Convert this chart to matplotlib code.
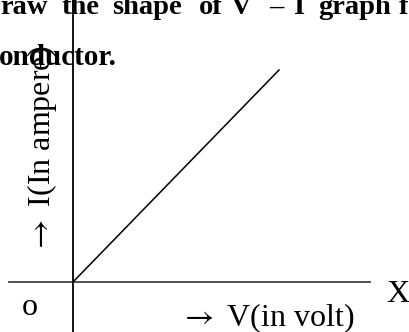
import matplotlib
matplotlib.use("Agg")
import matplotlib.pyplot as plt

# V-I graph of an ohmic conductor: a straight line through the origin
voltage = [0, 10]
current = [0, 10]

# heading text (cut off at both edges in the source)
heading_words = ["raw", "the", "shape", "of", "V", "–", "I", "graph", "f"]
heading_x = [0, 62, 112, 199, 231, 269, 294, 318, 399]
heading_line2 = "onductor."

x_label = r"$\rightarrow$ V(in volt)"
y_label = r"$\rightarrow$ I(In ampere)"
origin_label = "o"
x_axis_name = "X"

W, H = 409, 332
SERIF = ["Liberation Serif", "DejaVu Serif"]
plt.rcParams["mathtext.fontset"] = "stix"


def fx(px):
    return px / W


def fy(py):
    return 1 - py / H


def main() -> None:
    fig = plt.figure(figsize=(W / 100, H / 100), dpi=100)
    ax = fig.add_axes([0, 0, 1, 1])
    # origin sits at pixel (73, 282); 10 units -> (279, 70)
    sx = (279 - 73) / 10
    sy = (282 - 70) / 10
    ax.set_xlim(-73 / sx, (W - 73) / sx)
    ax.set_ylim(-(H - 282) / sy, 282 / sy)
    ax.axis("off")

    ax.axvline(0, color="black", linewidth=1.3)
    ax.axhline(0, xmin=9 / W, xmax=370 / W, color="#444444", linewidth=1.3)
    ax.plot(voltage, current, color="black", linewidth=1.1)

    for word, x in zip(heading_words, heading_x):
        fig.text(fx(x), fy(14), word, fontsize=20.5, fontweight="bold",
                 family=SERIF, ha="left", va="baseline")
    fig.text(fx(117), fy(65), heading_line2, fontsize=21, fontweight="bold",
             family=SERIF, ha="right", va="baseline")

    body = dict(fontsize=23, family=SERIF, va="baseline")
    fig.text(fx(180), fy(326), x_label, ha="left", **body)
    fig.text(fx(50), fy(253), y_label, ha="left", rotation=90,
             rotation_mode="anchor", **body)
    fig.text(fx(22), fy(315), origin_label, ha="left", **body)
    fig.text(fx(386), fy(302), x_axis_name, ha="left", **body)

    fig.savefig("out.png", dpi=100)
    plt.close(fig)


if __name__ == "__main__":
    main()
